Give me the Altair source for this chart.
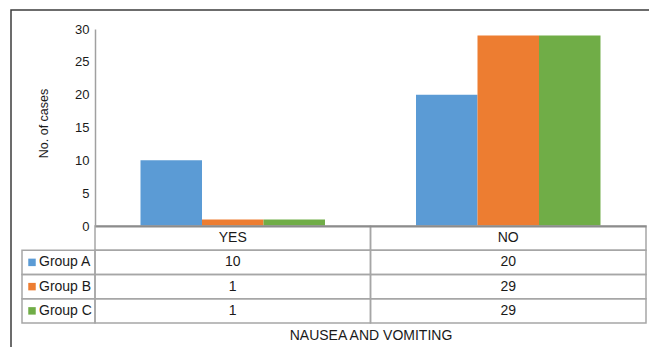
import altair as alt
import pandas as pd

# Values per answer (YES / NO) for each group
answers = ["YES", "NO"]
groups = ["Group A", "Group B", "Group C"]
group_a = [10, 20]
group_b = [1, 29]
group_c = [1, 29]
y_ticks = [0, 5, 10, 15, 20, 25, 30]
colors = ["#5B9BD5", "#ED7D31", "#70AD47"]

series = {"Group A": group_a, "Group B": group_b, "Group C": group_c}
bars_df = pd.DataFrame(
    [{"answer": a, "group": g, "cases": v} for g in groups for a, v in zip(answers, series[g])]
)

# Data table under the plot: a header row plus one row per group
rows = ["header"] + groups
cells_df = pd.DataFrame(
    [{"row": "header", "answer": a, "label": a} for a in answers]
    + [{"row": g, "answer": a, "label": str(v)} for g in groups for a, v in zip(answers, series[g])]
)
legend_df = pd.DataFrame({"row": groups, "group": groups})

FONT = "Liberation Sans"
W, H = 551, 197
LINE = "#a6a6a6"

x_scale = alt.Scale(domain=answers, paddingInner=0, paddingOuter=0)
color_scale = alt.Scale(domain=groups, range=colors)
row_scale = alt.Scale(domain=rows, range=[197, 294], paddingInner=0, paddingOuter=0)

bars = alt.Chart(bars_df).mark_bar().encode(
    x=alt.X(
        "answer:N",
        scale=x_scale,
        axis=alt.Axis(
            labels=False, ticks=False, domainColor="#8c8c8c", domainWidth=2, zindex=2,
            title="NAUSEA AND VOMITING", titleFont=FONT, titleFontSize=14,
            titleFontWeight="normal", titleColor="#1a1a1a",
            titleY=109, titleBaseline="middle",
        ),
    ),
    xOffset=alt.XOffset("group:N", scale=alt.Scale(domain=groups, paddingInner=0, paddingOuter=0.74)),
    y=alt.Y(
        "cases:Q",
        scale=alt.Scale(domain=[0, 30]),
        axis=alt.Axis(
            values=y_ticks, ticks=False, grid=False, labelPadding=6,
            labelFont=FONT, labelFontSize=13, labelColor="#1a1a1a",
            domainColor="#a0a0a0", domainWidth=1.5, zindex=2,
            title="No. of cases", titleFont=FONT, titleFontSize=12.5,
            titleFontWeight="normal", titleColor="#1a1a1a",
            titleX=-52, titleY=94, titleAngle=270,
            titleAlign="center", titleBaseline="middle",
        ),
    ),
    color=alt.Color("group:N", scale=color_scale, legend=None),
)

cell_rects = alt.Chart(cells_df).mark_rect(
    fillOpacity=0, stroke=LINE, strokeWidth=1.5
).encode(
    x=alt.X("answer:N", scale=x_scale),
    y=alt.Y("row:N", scale=row_scale, axis=None),
)

cell_text = alt.Chart(cells_df).mark_text(
    font=FONT, fontSize=14, color="#1a1a1a"
).encode(
    x=alt.X("answer:N", scale=x_scale),
    y=alt.Y("row:N", scale=row_scale, axis=None),
    text="label:N",
)

legend_rects = alt.Chart(legend_df).mark_rect(
    fillOpacity=0, stroke=LINE, strokeWidth=1.5
).encode(
    x=alt.value(-73),
    x2=alt.value(0),
    y=alt.Y("row:N", scale=row_scale, axis=None),
)

legend_swatch = alt.Chart(legend_df).mark_square(size=56, opacity=1).encode(
    x=alt.value(-63),
    y=alt.Y("row:N", scale=row_scale, axis=None),
    color=alt.Color("group:N", scale=color_scale, legend=None),
)

legend_text = alt.Chart(legend_df).mark_text(
    font=FONT, fontSize=14, color="#1a1a1a", align="left"
).encode(
    x=alt.value(-56),
    y=alt.Y("row:N", scale=row_scale, axis=None),
    text="group:N",
)

frame = alt.Chart(pd.DataFrame({"k": [0]})).mark_rect(
    fillOpacity=0, stroke="#3c3c3c", strokeWidth=1.5
).encode(
    x=alt.value(-84), x2=alt.value(900), y=alt.value(-19), y2=alt.value(700)
)

chart = (
    alt.layer(frame, bars, cell_rects, cell_text, legend_rects, legend_swatch, legend_text)
    .resolve_scale(y="independent")
    .properties(
        width=W,
        height=H,
        padding={"left": 95, "top": 29, "right": 3, "bottom": 121},
        autosize=alt.AutoSizeParams(type="none"),
        background="white",
    )
    .configure_view(strokeWidth=0)
)

chart.save("out.html", embed_options={"renderer": "svg", "actions": False})
